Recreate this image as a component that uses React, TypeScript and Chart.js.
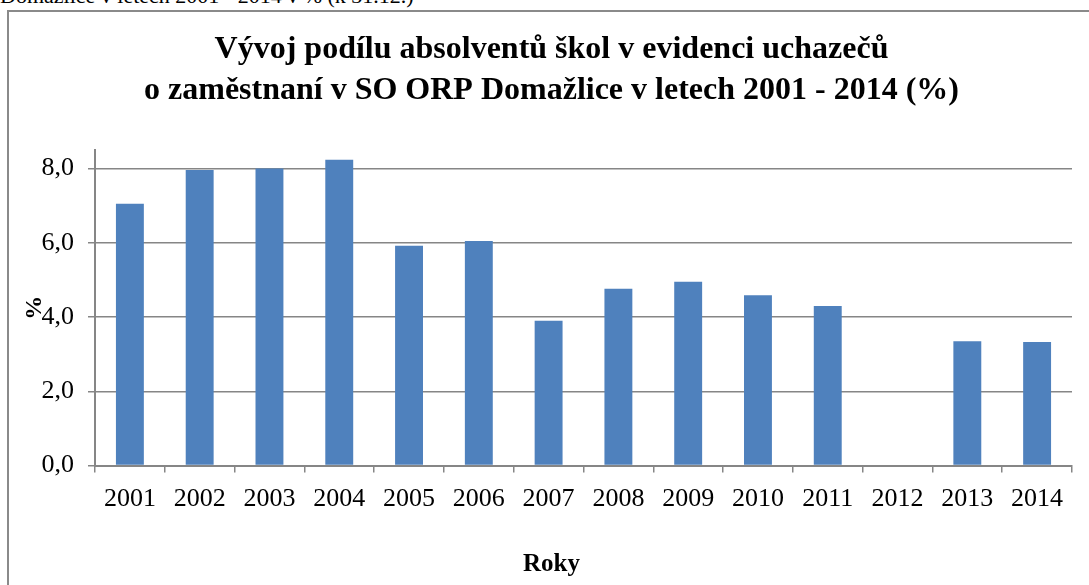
import React, { useEffect, useRef } from "react";
import { Chart, registerables } from "chart.js";

Chart.register(...registerables);

const years = ["2001", "2002", "2003", "2004", "2005", "2006", "2007", "2008", "2009", "2010", "2011", "2012", "2013", "2014"];
const shares: (number | null)[] = [7.05, 7.96, 8.0, 8.24, 5.92, 6.05, 3.9, 4.76, 4.95, 4.59, 4.3, null, 3.35, 3.33];
const titleLines = [
  "Vývoj podílu absolventů škol v evidenci uchazečů",
  "o zaměstnaní v SO ORP Domažlice v letech 2001 - 2014 (%)",
];
const topCaption = "Domažlice v letech 2001 - 2014 v % (k 31.12.)";
const xTitle = "Roky";
const yTitle = "%";

const SERIF = "'Liberation Serif', 'Times New Roman', serif";
const GRAY = "#868686";

const textPlugin = {
  id: "boxTexts",
  afterDraw(chart: any) {
    const ctx = chart.ctx;
    const cx = chart.width / 2 + 2;
    ctx.save();
    ctx.fillStyle = "#000";
    ctx.textAlign = "center";
    ctx.textBaseline = "alphabetic";
    ctx.font = `bold 32px ${SERIF}`;
    ctx.fillText(titleLines[0], cx, 47);
    ctx.fillText(titleLines[1], cx, 88);
    ctx.font = `bold 25px ${SERIF}`;
    ctx.fillText(xTitle, cx, 560);
    ctx.restore();
  },
};

export default function App() {
  const ref = useRef<HTMLCanvasElement | null>(null);

  useEffect(() => {
    if (!ref.current) return;
    const chart = new Chart(ref.current, {
      type: "bar",
      data: {
        labels: years,
        datasets: [
          {
            data: shares,
            backgroundColor: "#4F81BD",
            borderWidth: 0,
            barPercentage: 0.4,
            categoryPercentage: 1,
          },
        ],
      },
      plugins: [textPlugin],
      options: {
        responsive: false,
        animation: false,
        layout: { padding: { left: 0, right: 17, top: 139, bottom: 0 } },
        plugins: {
          legend: { display: false },
          tooltip: { enabled: false },
          title: { display: false },
        },
        scales: {
          x: {
            grid: {
              display: true,
              drawOnChartArea: false,
              drawTicks: true,
              tickLength: 7,
              color: GRAY,
              lineWidth: 1.5,
              offset: true,
            },
            border: { display: true, color: GRAY, width: 2 },
            ticks: {
              color: "#000",
              font: { family: SERIF, size: 26 },
              padding: 11,
              maxRotation: 0,
              autoSkip: false,
            },
            title: { display: false },
            afterFit: (scale: any) => {
              scale.height = 119.5;
            },
          },
          y: {
            min: 0,
            max: 8.5,
            grid: {
              color: GRAY,
              lineWidth: 1.5,
              tickLength: 7,
              drawTicks: true,
            },
            border: { display: true, color: GRAY, width: 2 },
            ticks: {
              stepSize: 2,
              includeBounds: false,
              color: "#000",
              font: { family: SERIF, size: 26 },
              padding: 14,
              callback: (v: any) => Number(v).toFixed(1).replace(".", ","),
            },
            title: {
              display: true,
              text: yTitle,
              color: "#000",
              font: { family: SERIF, size: 24, weight: "bold", lineHeight: 1.2 },
              padding: { top: 10.5, bottom: 0 },
            },
            afterFit: (scale: any) => {
              scale.width = 85;
            },
          },
        },
      },
    });
    return () => chart.destroy();
  }, []);

  return (
    <div style={{ position: "absolute", left: 0, top: 0, width: 1089, height: 585, overflow: "hidden", background: "#fff" }}>
      <div
        style={{
          position: "absolute",
          left: 0,
          top: -16,
          fontFamily: SERIF,
          fontSize: 22,
          lineHeight: "24px",
          whiteSpace: "nowrap",
          color: "#000",
        }}
      >
        {topCaption}
      </div>
      <div
        style={{
          position: "absolute",
          left: 7,
          top: 10,
          width: 1200,
          height: 700,
          border: "2px solid #8a8a8a",
          boxSizing: "border-box",
        }}
      />
      <canvas
        ref={ref}
        width={1079}
        height={574}
        style={{ position: "absolute", left: 10, top: 11, width: 1079, height: 574 }}
      />
    </div>
  );
}
